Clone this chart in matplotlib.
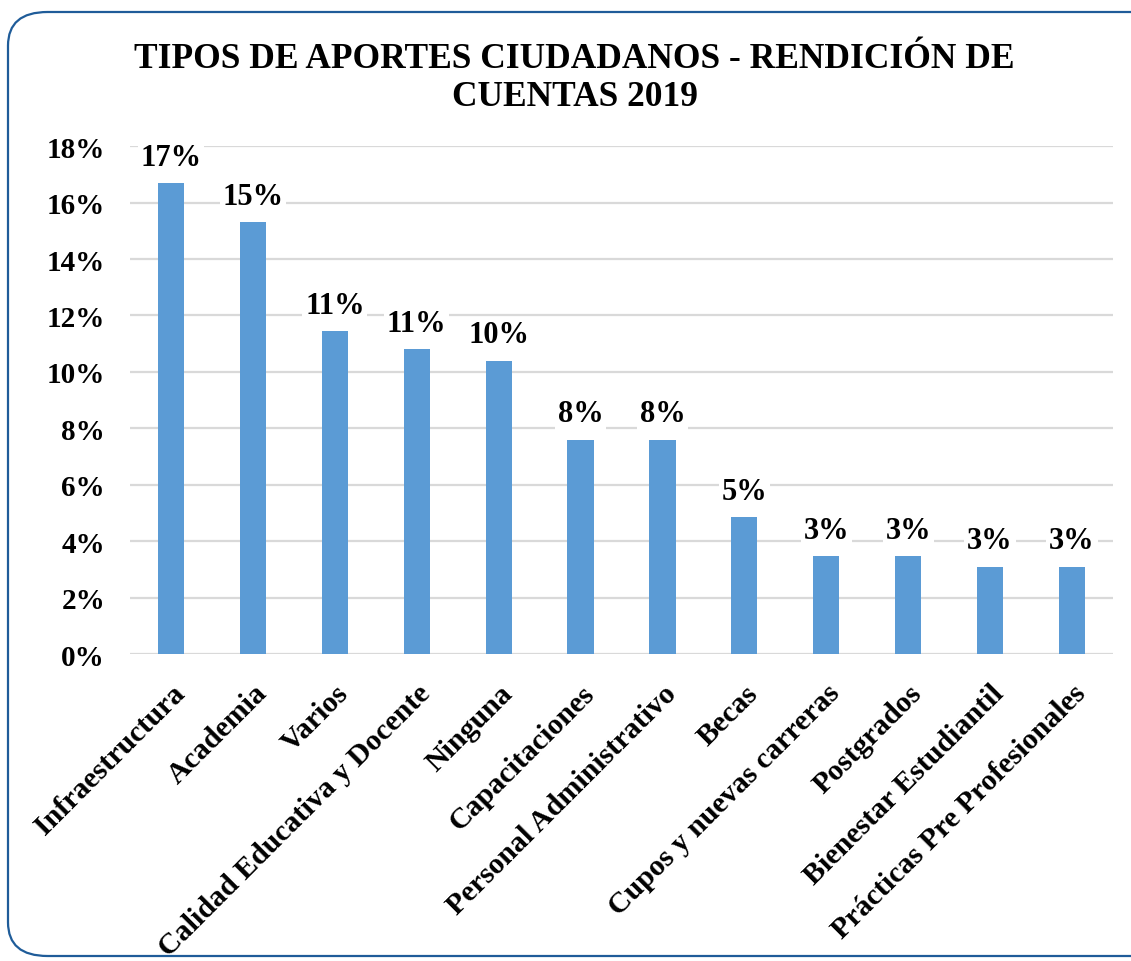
import matplotlib.pyplot as plt
from matplotlib.patches import FancyBboxPatch
import numpy as np

categorias = ["Infraestructura", "Academia", "Varios", "Calidad Educativa y Docente",
              "Ninguna", "Capacitaciones", "Personal Administrativo", "Becas",
              "Cupos y nuevas carreras", "Postgrados", "Bienestar Estudiantil",
              "Prácticas Pre Profesionales"]
valores = [16.7, 15.3, 11.45, 10.8, 10.4, 7.6, 7.6, 4.85, 3.47, 3.47, 3.1, 3.1]
titulo = "TIPOS DE APORTES CIUDADANOS - RENDICIÓN DE\nCUENTAS 2019"

plt.rcParams['font.family'] = ['Liberation Serif', 'DejaVu Serif']
plt.rcParams['font.weight'] = 'bold'

fig = plt.figure(figsize=(11.31, 9.62), dpi=100)
ax = fig.add_axes([0.115, 0.319, 0.869, 0.528])

# marco redondeado azul
marco = FancyBboxPatch((8 / 1131, 5 / 962), 1.1, (962 - 18) / 962,
                       boxstyle="round,pad=0,rounding_size=0.035",
                       transform=fig.transFigure, fill=False,
                       edgecolor='#1F5C99', linewidth=1.6, zorder=-1)
fig.patches.append(marco)

x = np.arange(len(categorias))
ax.bar(x, valores, width=0.32, color='#5B9BD5', zorder=2)

for xi, v in zip(x, valores):
    ax.text(xi, v + 0.4, f"{v:.0f}%", ha='center', va='bottom', fontsize=22,
            fontweight='bold', zorder=3,
            bbox=dict(facecolor='white', edgecolor='none', pad=2))

ax.set_xlim(-0.5, len(categorias) - 0.5)
ax.set_ylim(0, 18)
ax.set_yticks(np.arange(0, 19, 2))
ax.set_yticklabels([f"{t}%" for t in range(0, 19, 2)], fontsize=21, fontweight='bold')
ax.set_xticks(x)
ax.set_xticklabels(categorias, rotation=45, ha='right', rotation_mode='anchor',
                   fontsize=21.5, fontweight='bold')
ax.tick_params(axis='both', length=0)
ax.tick_params(axis='y', pad=18)
ax.tick_params(axis='x', pad=18)
ax.grid(axis='y', color='#D9D9D9', linewidth=1.6, zorder=0)
ax.set_axisbelow(True)
for s in ax.spines.values():
    s.set_visible(False)

fig.text(0.508, 0.918, titulo, ha='center', va='center', fontsize=25.5,
         fontweight='bold', linespacing=1.2)

fig.savefig("out.png", dpi=100)
